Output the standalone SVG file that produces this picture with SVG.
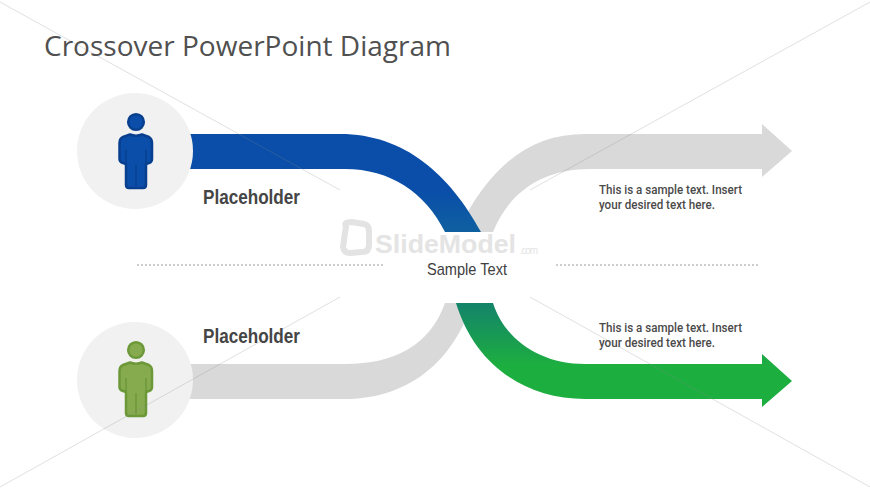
<svg xmlns="http://www.w3.org/2000/svg" width="870" height="489" viewBox="0 0 870 489">
<style>
.gray{fill:#d9d9d9}
.disc{fill:#f1f1f1}
.hair{stroke:#8a8a8a;stroke-width:.7;opacity:.38;fill:none}
.dots{stroke:#cdcdcd;stroke-width:2;stroke-dasharray:2 2;fill:none}
.ph{font:bold 20.5px "Liberation Sans Narrow","Liberation Sans",sans-serif;fill:#454545}
.small{font:500 12.5px Roboto,"Liberation Sans",sans-serif;fill:#4a4a4a}
</style>
<defs>
<linearGradient id="bg" gradientUnits="userSpaceOnUse" x1="0" y1="190" x2="0" y2="232"><stop offset="0" stop-color="#0a4ea9"/><stop offset="1" stop-color="#0f60a0"/></linearGradient>
<linearGradient id="gg" gradientUnits="userSpaceOnUse" x1="0" y1="303" x2="0" y2="365"><stop offset="0" stop-color="#13836a"/><stop offset="1" stop-color="#1dae40"/></linearGradient>
<path id="person" stroke-width="2.500" stroke-linejoin="round" d="M130 134.500Q136 137 142 134.500L149 137Q152 138.500 152 143V159Q152 162 149 163L146 164V185Q146 188 143 188H129Q126 188 126 185V164L123 163Q119.500 162 119.500 159V143Q119.500 138.500 123 137Z"/>
</defs>
<rect width="870" height="489" fill="#fff"/>
<g id="connectors">
<path class="gray" d="M585 134H762V124L792 151L762 177V169H590C545 169 510 190 493 232H457C490 165 530 134 585 134Z"/>
<path style="fill:url(#bg)" d="M185 134H340C405 134 450 175 481 232H445C425 192 390 169 345 169H185Z"/>
<path class="gray" d="M185 364H345C395 364 430 345 445 303H472C450 370 400 399 345 399H185Z"/>
<path style="fill:url(#gg)" d="M493 303C505 340 540 364 585 364H762V354L792 381L762 407V399H585C525 399 475 365 456 303Z"/>
</g>
<g id="watermark">
<path d="M346 226Q343 222 352 222L364 224Q369 225 369 231V245Q369 252 362 252L350 253Q344 253 343 247Z" fill="none" stroke="#e3e3e3" stroke-width="6"/>
<text x="375" y="253" font-family="'Liberation Sans',sans-serif" font-weight="bold" font-size="26.500" fill="#e4e4e4" textLength="141" lengthAdjust="spacingAndGlyphs">SlideModel</text>
<text x="520" y="254" font-family="'Liberation Sans',sans-serif" font-size="10" fill="#e4e4e4" textLength="18">.com</text>
</g>
<g id="node-top-person">
<circle class="disc" cx="135" cy="151" r="58"/>
<circle cx="136" cy="122" r="7.800" fill="#0b4ea9" stroke="#083f8f" stroke-width="2.500"/>
<use href="#person" fill="#0b4ea9" stroke="#083f8f"/>
<path d="M126 150V163M146 150V163M136 165V186" stroke="#083f8f" stroke-width="1.500" fill="none"/>
</g>
<g id="node-bottom-person">
<circle class="disc" cx="135" cy="380" r="58"/>
<circle cx="136" cy="350" r="7.800" fill="#86ab4f" stroke="#6c9838" stroke-width="2.500"/>
<use href="#person" y="228" fill="#86ab4f" stroke="#6c9838"/>
<path d="M126 378V391M146 378V391M136 393V414" stroke="#6c9838" stroke-width="1.500" fill="none"/>
</g>
<g id="divider">
<path class="dots" d="M137 265H385M556 265H760"/>
</g>
<g id="hairlines">
<path class="hair" d="M0 2L340 190M870 2L530 190M340 297L0 487M530 297L870 487"/>
</g>
<g id="labels">
<text x="44" y="56" font-family="'Open Sans','Liberation Sans',sans-serif" font-size="27.500" fill="#505050" textLength="407" lengthAdjust="spacingAndGlyphs">Crossover PowerPoint Diagram</text>
<text class="ph" x="203" y="204" textLength="97" lengthAdjust="spacingAndGlyphs">Placeholder</text>
<text class="ph" x="203" y="343" textLength="97" lengthAdjust="spacingAndGlyphs">Placeholder</text>
<text x="427" y="275" font-family="'Liberation Sans Narrow','Liberation Sans',sans-serif" font-size="17" fill="#404040" textLength="80" lengthAdjust="spacingAndGlyphs">Sample Text</text>
<text class="small" x="599" y="194" textLength="143" lengthAdjust="spacingAndGlyphs">This is a sample text. Insert</text>
<text class="small" x="599" y="209" textLength="116" lengthAdjust="spacingAndGlyphs">your desired text here.</text>
<text class="small" x="599" y="332" textLength="143" lengthAdjust="spacingAndGlyphs">This is a sample text. Insert</text>
<text class="small" x="599" y="347" textLength="116" lengthAdjust="spacingAndGlyphs">your desired text here.</text>
</g>
</svg>
